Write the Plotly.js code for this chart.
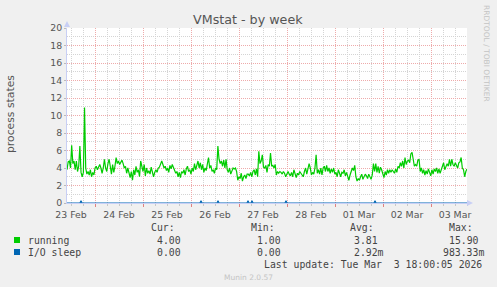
<!DOCTYPE html>
<html>
<head>
<meta charset="utf-8">
<script src="https://cdn.plot.ly/plotly-3.0.1.min.js"></script>
<style>
html,body{margin:0;padding:0;background:#f0f0f0;}
#chart{width:497px;height:287px;}
</style>
</head>
<body>
<div id="chart"></div>
<script>
// ---- data ----
const rangeStart = '2026-02-23 10:00';
const rangeEnd = '2026-03-03 18:00';
const dayTicks0 = '2026-02-23 00:00';

// running processes, sampled evenly across the week window
const running = [
3.8,4.7,4.8,4.0,6.6,4.5,4.8,3.8,4.8,3.6,
4.2,6.5,3.5,3.0,3.5,10.9,4.0,3.3,3.6,3.2,
3.8,3.0,3.5,3.2,4.0,4.2,3.8,4.1,4.4,4.0,
3.4,4.0,5.0,4.0,3.6,4.5,5.0,4.2,3.3,4.4,
3.5,4.2,5.2,4.5,4.8,4.4,4.6,4.9,4.5,4.0,
4.2,3.4,4.0,3.5,2.9,3.6,2.6,3.8,3.2,4.2,
3.5,3.8,3.0,4.8,4.1,3.6,4.4,3.1,4.0,3.4,
3.7,3.3,4.1,3.6,3.0,3.5,3.8,3.5,4.0,4.1,
4.4,4.8,4.4,4.0,4.2,3.7,4.0,3.5,4.3,3.9,
4.4,4.0,3.8,3.4,3.6,3.0,3.5,2.9,3.6,3.4,
3.8,3.2,3.9,4.2,3.6,3.8,3.3,4.0,3.6,4.5,
3.8,4.2,4.8,4.0,4.6,3.8,4.4,3.5,4.0,3.7,
4.4,5.2,4.0,4.3,3.6,3.8,3.4,4.0,3.8,6.5,
5.0,4.5,4.8,4.2,4.9,4.0,5.0,3.8,3.5,4.0,
3.3,3.8,4.0,3.9,4.0,3.6,2.6,3.0,2.8,3.4,
2.5,3.0,3.2,2.8,3.3,3.3,
3.1,3.5,3.0,3.6,3.8,3.2,3.9,3.0,5.9,4.5,
4.8,5.5,4.1,4.0,4.3,3.5,4.4,4.2,5.7,4.2,
4.3,4.0,4.4,3.2,3.6,3.4,3.6,3.5,3.3,3.6,
3.4,3.0,3.4,3.6,3.3,3.1,3.5,3.0,3.8,3.2,
2.9,3.4,3.2,3.6,3.4,3.3,3.0,3.6,4.0,3.3,
3.8,4.5,4.0,3.2,3.5,3.3,4.0,5.5,3.4,3.8,
3.3,4.0,3.2,4.0,4.2,3.6,4.3,3.6,4.0,3.4,
3.9,3.5,4.0,3.3,3.5,3.0,3.8,3.4,3.0,3.5,
3.4,3.8,3.1,3.5,3.0,2.6,3.2,3.7,4.0,3.7,
4.3,3.0,2.5,2.8,2.6,3.0,3.3,2.7,3.0,3.3,
3.1,2.8,3.3,3.0,2.7,3.2,4.5,3.6,4.5,3.5,
4.2,3.4,4.1,3.8,3.2,2.9,3.6,3.2,3.8,3.4,
3.8,3.5,3.8,3.6,3.4,3.9,3.5,4.2,4.0,4.6,
4.2,4.8,4.0,5.2,4.4,4.8,4.9,4.6,5.6,5.8,
4.8,4.2,4.4,4.2,4.9,5.0,3.6,4.0,3.4,3.8,
3.2,3.7,3.3,3.9,3.5,3.1,3.8,3.3,3.9,3.6,
4.0,3.4,3.9,3.4,3.8,4.2,4.6,3.8,4.1,4.5,
4.2,5.0,4.2,5.0,4.4,4.2,4.6,4.2,4.0,4.6,
4.7,5.2,4.0,3.8,3.0,3.6,3.9
];

const ioTimes = [
'2026-02-23 10:00','2026-02-23 16:30','2026-02-23 17:00','2026-02-23 17:30',
'2026-02-26 04:30','2026-02-26 05:00','2026-02-26 05:30',
'2026-02-26 13:00','2026-02-26 13:30','2026-02-26 14:00',
'2026-02-27 04:00','2026-02-27 04:30','2026-02-27 05:00',
'2026-02-27 06:00','2026-02-27 06:30','2026-02-27 07:00',
'2026-02-27 23:00','2026-02-27 23:30','2026-02-28 00:00',
'2026-03-01 19:30','2026-03-01 20:00','2026-03-01 20:30',
'2026-03-03 18:00'
];
const ioValues = [
0,0,0.25,0,
0,0.25,0,
0,0.25,0,
0,0.25,0,
0,0.25,0,
0,0.25,0,
0,0.25,0,
0
];

const legendHeaders = ['Cur:', 'Min:', 'Avg:', 'Max:'];
const seriesNames = ['running', 'I/O sleep'];
const seriesColors = ['#00cc00', '#0066b3'];
const runningStats = ['4.00', '1.00', '3.81', '15.90'];
const ioStats = ['0.00', '0.00', '2.92m', '983.33m'];
const lastUpdate = 'Last update: Tue Mar  3 18:00:05 2026';

// ---- evenly spaced sample times across the window ----
const t0 = Date.parse(rangeStart.replace(' ', 'T') + ':00Z');
const t1 = Date.parse(rangeEnd.replace(' ', 'T') + ':00Z');
const step = (t1 - t0) / (running.length - 1);
const runTimes = running.map((_, i) => t0 + i * step);

// ---- layout helpers (pixel -> paper) ----
const L = 67, R = 467, T = 28, B = 203;
const px = x => (x - L) / (R - L);
const py = y => (B - y) / (B - T);

const mono = 'DejaVu Sans Mono, monospace';
const sans = 'DejaVu Sans, sans-serif';
const txtCol = '#555555';

function ann(text, x, y, opts) {
  return Object.assign({
    text: text, xref: 'paper', yref: 'paper', x: px(x), y: py(y),
    xanchor: 'left', yanchor: 'middle', showarrow: false,
    font: {family: mono, size: 9.8, color: '#444444'}
  }, opts || {});
}

const annotations = [
  ann('VMstat - by week', 248, 20, {xanchor: 'center', font: {family: sans, size: 12.7, color: txtCol}}),
  ann('process states', 10, 114, {xanchor: 'center', textangle: -90, font: {family: sans, size: 10.8, color: txtCol}}),
  ann('RRDTOOL / TOBI OETIKER', 487, 53, {xanchor: 'center', textangle: 90, font: {family: sans, size: 7.5, color: '#c4c4c4'}}),
  ann(legendHeaders[0], 149, 227),
  ann(legendHeaders[1], 249, 227),
  ann(legendHeaders[2], 348, 227),
  ann(legendHeaders[3], 447, 227),
  ann(seriesNames[0], 26, 240),
  ann(seriesNames[1], 26, 252),
  ann(runningStats[0], 155, 240),
  ann(runningStats[1], 255, 240),
  ann(runningStats[2], 352, 240),
  ann(runningStats[3], 447, 240),
  ann(ioStats[0], 155, 252),
  ann(ioStats[1], 255, 252),
  ann(ioStats[2], 352, 252),
  ann(ioStats[3], 441, 252),
  ann(lastUpdate, 262, 264),
  ann('Munin 2.0.57', 248, 277, {xanchor: 'center', font: {family: sans, size: 7.5, color: '#c4c4c4'}})
];

const arrowCol = '#c8cff5';
const shapes = [
  {type: 'rect', xref: 'paper', yref: 'paper', x0: px(14), x1: px(20), y0: py(243), y1: py(237),
   fillcolor: seriesColors[0], line: {width: 0}},
  {type: 'rect', xref: 'paper', yref: 'paper', x0: px(14), x1: px(20), y0: py(255), y1: py(249),
   fillcolor: seriesColors[1], line: {width: 0}},
  {type: 'path', xref: 'paper', yref: 'paper',
   path: `M ${px(64)} ${py(27)} L ${px(70)} ${py(27)} L ${px(67)} ${py(21)} Z`,
   fillcolor: arrowCol, line: {width: 0}},
  {type: 'path', xref: 'paper', yref: 'paper',
   path: `M ${px(467)} ${py(200)} L ${px(467)} ${py(206)} L ${px(473)} ${py(203)} Z`,
   fillcolor: arrowCol, line: {width: 0}}
];

const majorGrid = '#eeaaaa';
const minorGrid = '#d4d4d4';

const traces = [
  {x: runTimes, y: running, type: 'scatter', mode: 'lines', name: seriesNames[0],
   line: {color: seriesColors[0], width: 1.2}},
  {x: ioTimes, y: ioValues, type: 'scatter', mode: 'lines', name: seriesNames[1],
   line: {color: seriesColors[1], width: 1.2}}
];

const layout = {
  width: 497, height: 287,
  paper_bgcolor: '#f0f0f0', plot_bgcolor: '#ffffff',
  margin: {l: L, r: 497 - R, t: T, b: 287 - B, pad: 0},
  showlegend: false,
  hovermode: false,
  xaxis: {
    type: 'date', range: [rangeStart, rangeEnd],
    tick0: dayTicks0, dtick: 86400000, tickformat: '%d %b',
    ticklabelmode: 'period',
    showgrid: true, gridcolor: majorGrid, griddash: '1px,1px', gridwidth: 1,
    ticks: 'outside', ticklen: 3, tickcolor: '#e08080',
    minor: {dtick: 21600000, tick0: dayTicks0, showgrid: true, gridcolor: minorGrid, griddash: '1px,1px',
            ticks: 'outside', ticklen: 2, tickcolor: '#c8c8c8'},
    showline: true, linecolor: arrowCol, linewidth: 1,
    zeroline: false,
    tickfont: {family: sans, size: 9.4, color: txtCol}
  },
  yaxis: {
    range: [0, 20], tick0: 0, dtick: 2,
    showgrid: true, gridcolor: majorGrid, griddash: '1px,1px', gridwidth: 1,
    ticks: 'outside', ticklen: 2, tickcolor: '#bbbbbb',
    minor: {dtick: 1, showgrid: true, gridcolor: minorGrid, griddash: '1px,1px'},
    showline: true, linecolor: arrowCol, linewidth: 1,
    zeroline: false,
    tickfont: {family: sans, size: 9.4, color: txtCol}
  },
  annotations: annotations,
  shapes: shapes
};

Plotly.newPlot('chart', traces, layout, {displayModeBar: false, staticPlot: true});
</script>
</body>
</html>
